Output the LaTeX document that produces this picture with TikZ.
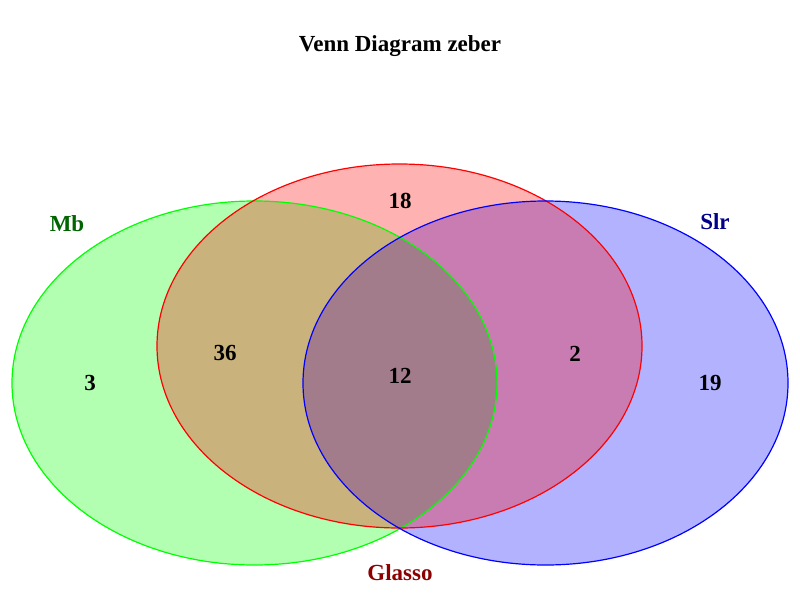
\documentclass[tikz,border=0pt]{standalone}
\usepackage{fontspec}
\setmainfont{Liberation Serif}
\definecolor{mbline}{RGB}{0,255,0}
\definecolor{glline}{RGB}{255,0,0}
\definecolor{slline}{RGB}{0,0,255}
\definecolor{mbtext}{RGB}{0,100,0}
\definecolor{gltext}{RGB}{139,0,0}
\definecolor{sltext}{RGB}{0,0,139}
\tikzset{
  setfill/.style={fill=#1, fill opacity=0.3},
  setline/.style={draw=#1, line width=1.2pt},
  txt/.style={font=\fontsize{23}{28}\selectfont\bfseries, text depth=0pt, inner sep=0pt}
}
\begin{document}
\begin{tikzpicture}[x=1pt,y=-1pt]
            \useasboundingbox (0,0) rectangle (800,600);
            % the three sets: fills first, then outlines
            \fill[setfill=mbline] (254.5,383) ellipse [x radius=242.5, y radius=182];
            \fill[setfill=slline] (545.5,383) ellipse [x radius=242.5, y radius=182];
            \fill[setfill=glline] (399.5,346) ellipse [x radius=242.5, y radius=182];
            \draw[setline=mbline] (254.5,383) ellipse [x radius=242.5, y radius=182];
            \draw[setline=glline] (399.5,346) ellipse [x radius=242.5, y radius=182];
            \draw[setline=slline] (545.5,383) ellipse [x radius=242.5, y radius=182];
            % set names
            \node[txt] (T) at (400,44) {Venn Diagram zeber};
            \node[txt, text=mbtext] (Mb) at (67,224) {Mb};
            \node[txt, text=sltext] (Slr) at (715,222) {Slr};
            \node[txt, text=gltext] (Gl) at (400,573) {Glasso};
            % counts
            \node[txt] (nG) at (400,201) {18};
            \node[txt] (nM) at (90,383) {3};
            \node[txt] (nMG) at (225,353) {36};
            \node[txt] (nMGS) at (400,376) {12};
            \node[txt] (nGS) at (575,354) {2};
            \node[txt] (nS) at (710,383) {19};
        \end{tikzpicture}
\end{document}
